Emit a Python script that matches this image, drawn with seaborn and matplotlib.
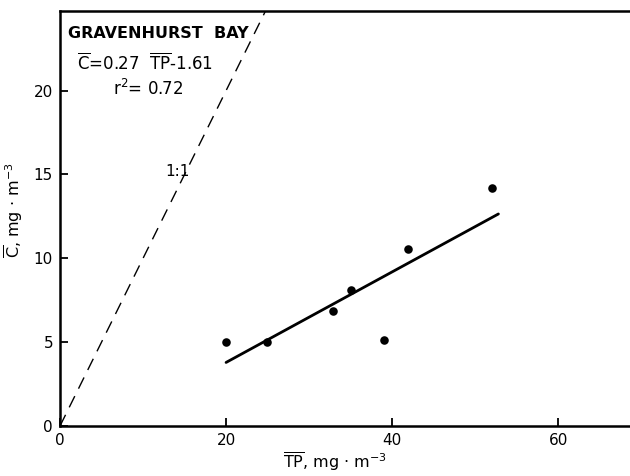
import matplotlib
matplotlib.use("Agg")
import matplotlib.pyplot as plt
import seaborn as sns
import pandas as pd

# Mean total phosphorus and mean chlorophyll, Gravenhurst Bay
tp = [20.0, 24.9, 32.9, 35.0, 39.0, 41.9, 52.0]
chl = [5.0, 5.0, 6.85, 8.1, 5.15, 10.55, 14.2]

# Regression C = 0.27 TP - 1.61, drawn over the observed TP range
slope, intercept = 0.27, -1.61
fit_tp = [20.0, 52.8]
fit_chl = [slope * v + intercept for v in fit_tp]

one_to_one = [0.0, 30.0]

x_ticks = [0, 20, 40, 60]
y_ticks = [0, 5, 10, 15, 20]

sns.set_theme(style="ticks")
plt.rcParams["font.family"] = ["DejaVu Sans"]
plt.rcParams["mathtext.fontset"] = "dejavusans"
plt.rcParams["text.color"] = "black"
plt.rcParams["axes.labelcolor"] = "black"

fig = plt.figure(figsize=(6.3, 4.76), dpi=100)
ax = fig.add_axes([60 / 630, 1 - 426 / 476, 1 - 60 / 630 + 0.002, (426 - 11) / 476])

pts = pd.DataFrame({"TP": tp, "C": chl})
sns.scatterplot(data=pts, x="TP", y="C", ax=ax, color="black", s=38,
                edgecolor="black", linewidth=0, zorder=3)
fit = pd.DataFrame({"TP": fit_tp, "C": fit_chl})
sns.lineplot(data=fit, x="TP", y="C", ax=ax, color="black", linewidth=2.0)
ref = pd.DataFrame({"TP": one_to_one, "C": one_to_one})
sns.lineplot(data=ref, x="TP", y="C", ax=ax, color="black", linewidth=1.0,
             dashes=False, linestyle=(0, (9, 6)))

ax.set_xlim(0, 68.8)
ax.set_ylim(0, 24.75)
ax.set_xticks(x_ticks)
ax.set_yticks(y_ticks)
ax.tick_params(direction="in", length=6, width=1.3, labelsize=11, colors="black", pad=5)
ax.tick_params(axis="y", pad=5)

for side in ["left", "bottom", "top"]:
    ax.spines[side].set_linewidth(1.8)
    ax.spines[side].set_color("black")
ax.spines["right"].set_visible(False)

ax.set_xlabel(r"$\overline{\mathrm{TP}}$, mg $\cdot$ m$^{-3}$", fontsize=11.5)
ax.set_ylabel(r"$\overline{\mathrm{C}}$, mg $\cdot$ m$^{-3}$", fontsize=11.5)
ax.xaxis.set_label_coords(0.482, -0.058)
ax.yaxis.set_label_coords(-0.062, 0.52)

ax.text(1.0, 23.4, "GRAVENHURST  BAY", fontsize=11.5, fontweight="bold",
        ha="left", va="center")
ax.text(2.0, 21.6, r"$\overline{\mathrm{C}}$=0.27  $\overline{\mathrm{TP}}$-1.61",
        fontsize=12, ha="left", va="center")
ax.text(6.4, 20.1, r"r$^{2}$= 0.72", fontsize=12, ha="left", va="center")
ax.text(14.2, 15.2, "1:1", fontsize=11, ha="center", va="center")

fig.savefig("out.png", dpi=100)
